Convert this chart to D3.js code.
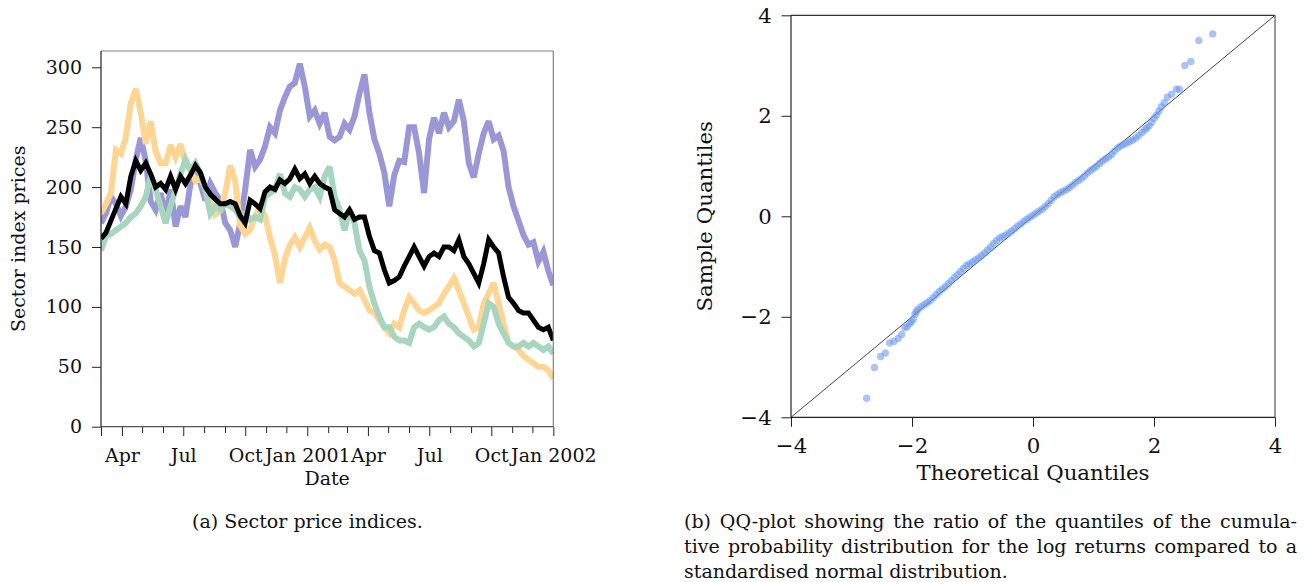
<!DOCTYPE html>
<html>
<head>
<meta charset="utf-8">
<script src="https://cdn.jsdelivr.net/npm/d3@7"></script>
<style>
  body { margin: 0; background: #fff; }
  svg text { font-family: "DejaVu Serif", serif; fill: #111; }
</style>
</head>
<body>
<div id="figure"></div>
<script>
// ---- data: sector price indices, roughly one reading a week, Mar 2000 - Dec 2001
const startDate = new Date(2000, 2, 1);
const endDate = new Date(2002, 0, 1);

const purplePrices = [
  170, 178, 192, 186, 176, 184, 198, 223, 241, 222, 188, 181, 195, 176, 198, 167,
  184, 175, 203, 211, 203, 189, 203, 195, 189, 170, 164, 150, 170, 198, 231, 217,
  223, 234, 250, 245, 264, 275, 284, 287, 303, 284, 259, 264, 253, 262, 242,
  239, 242, 253, 248, 259, 278, 294, 262, 240, 228, 212, 184, 210, 222, 221,
  250, 250, 228, 195, 240, 258, 245, 262, 250, 255, 273, 255, 220, 208, 228,
  245, 255, 240, 243, 230, 200, 184, 172, 160, 152, 154, 138, 146, 130, 118
];
const orangePrices = [
  178, 186, 195, 231, 228, 242, 270, 282, 262, 236, 255, 230, 220, 220, 235, 225,
  236, 220, 214, 205, 208, 199, 190, 177, 180, 195, 218, 205, 168, 161, 164, 176,
  183, 176, 158, 143, 120, 140, 152, 158, 150, 158, 166, 155, 148, 152, 150,
  139, 120, 117, 114, 111, 114, 106, 97, 95, 89, 83, 78, 86, 83, 97,
  108, 103, 97, 95, 97, 100, 103, 111, 117, 124, 114, 103, 92, 81, 83,
  103, 111, 120, 103, 86, 70, 67, 64, 59, 56, 53, 50, 50, 47, 40
];
const greenPrices = [
  147, 159, 161, 164, 167, 170, 175, 178, 184, 192, 209, 198, 184, 170, 184, 198,
  211, 223, 214, 220, 211, 198, 178, 184, 181, 186, 184, 181, 175, 178, 173, 175,
  173, 192, 195, 198, 211, 195, 192, 200, 198, 192, 198, 200, 192, 209, 217,
  192, 181, 164, 181, 170, 147, 139, 117, 103, 92, 83, 83, 75, 72, 72,
  70, 83, 86, 83, 81, 83, 89, 92, 86, 83, 78, 75, 72, 67, 70,
  86, 103, 100, 86, 78, 70, 67, 67, 70, 67, 70, 67, 64, 67, 61
];
const blackPrices = [
  157, 162, 172, 182, 192, 186, 209, 222, 214, 220, 211, 200, 203, 198, 209, 198,
  209, 203, 210, 218, 212, 200, 194, 190, 186, 186, 188, 186, 176, 170, 189, 186,
  182, 196, 200, 198, 206, 203, 207, 215, 207, 211, 203, 209, 203, 200, 198,
  181, 178, 175, 181, 173, 175, 175, 159, 147, 145, 131, 120, 122, 125, 134,
  142, 150, 142, 134, 142, 145, 142, 150, 150, 147, 156, 142, 136, 128, 120,
  136, 156, 150, 145, 125, 108, 103, 97, 95, 95, 89, 83, 81, 83, 72
];
const yTickValues = [0, 50, 100, 150, 200, 250, 300];

// ---- data: QQ plot of the standardised log returns
const qqTheoretical = [
  -2.75, -2.62, -2.52, -2.44, -2.37, -2.30, -2.23, -2.17, -2.12, -2.08, -2.04, -2.01, -1.98, -1.95, -1.93,
  -1.90, -1.85, -1.80, -1.75, -1.70, -1.65, -1.60, -1.55, -1.50, -1.45, -1.40, -1.35, -1.30, -1.25, -1.20,
  -1.15, -1.10, -1.05, -1.00, -0.95, -0.90, -0.85, -0.80, -0.75, -0.70, -0.65, -0.60, -0.55, -0.50, -0.45,
  -0.40, -0.35, -0.30, -0.25, -0.20, -0.15, -0.10, -0.05, 0.00, 0.05, 0.10, 0.15, 0.20, 0.25, 0.30,
  0.35, 0.40, 0.45, 0.50, 0.55, 0.60, 0.65, 0.70, 0.75, 0.80, 0.85, 0.90, 0.95, 1.00, 1.05,
  1.10, 1.15, 1.20, 1.25, 1.30, 1.35, 1.40, 1.45, 1.50, 1.55, 1.60, 1.65, 1.70, 1.75, 1.80,
  1.85, 1.88, 1.92, 1.96, 2.00, 2.04, 2.08, 2.12, 2.17, 2.22, 2.29, 2.37, 2.42, 2.51, 2.61,
  2.74, 2.97
];
const qqSample = [
  -3.62, -3.01, -2.79, -2.72, -2.52, -2.49, -2.43, -2.35, -2.22, -2.20, -2.14, -2.10, -2.05, -1.95, -1.90,
  -1.85, -1.80, -1.76, -1.72, -1.68, -1.62, -1.56, -1.50, -1.45, -1.40, -1.34, -1.28, -1.22, -1.16, -1.10,
  -1.04, -0.98, -0.95, -0.91, -0.87, -0.83, -0.78, -0.73, -0.67, -0.61, -0.54, -0.48, -0.43, -0.40, -0.37,
  -0.33, -0.29, -0.24, -0.19, -0.15, -0.10, -0.06, -0.02, 0.02, 0.06, 0.10, 0.14, 0.19, 0.25, 0.32,
  0.39, 0.43, 0.47, 0.50, 0.53, 0.57, 0.62, 0.67, 0.71, 0.75, 0.80, 0.86, 0.91, 0.95, 0.99,
  1.05, 1.10, 1.14, 1.18, 1.23, 1.30, 1.36, 1.40, 1.43, 1.46, 1.49, 1.52, 1.56, 1.61, 1.67,
  1.72, 1.76, 1.80, 1.87, 1.95, 2.01, 2.09, 2.18, 2.26, 2.37, 2.43, 2.53, 2.53, 3.00, 3.08,
  3.50, 3.63
];
const qqTicks = [-4, -2, 0, 2, 4];

const captionA = "(a) Sector price indices.";
const captionB = [
  "(b) QQ-plot showing the ratio of the quantiles of the cumula-",
  "tive probability distribution for the log returns compared to a",
  "standardised normal distribution."
];

// ---- canvas
var canvas_width = 1306,
  canvas_height = 582;

var svg = d3.select("#figure")
  .append("svg")
  .attr("width", canvas_width)
  .attr("height", canvas_height)
  .attr("viewBox", [0, 0, canvas_width, canvas_height]);

svg.append("rect")
  .attr("width", canvas_width)
  .attr("height", canvas_height)
  .attr("fill", "#fff");

function styleAxis(g, size) {
  g.attr("font-family", null).attr("font-size", null);
  g.selectAll("text").attr("font-size", size);
  g.select(".domain").remove();
  g.selectAll(".tick line").attr("stroke", "#222").attr("stroke-width", 1);
}

function drawSectorPanel(svg) {
  const left = 101, right = 553.3, top = 51, bottom = 426.7;
  const n = blackPrices.length;
  const dates = d3.range(n).map(i => new Date(+startDate + i * (endDate - startDate) / (n - 1)));

  const x = d3.scaleTime().domain([startDate, endDate]).range([left, right]);
  const y = d3.scaleLinear().domain([0, 313.6]).range([bottom, top]);

  svg.append("clipPath").attr("id", "sectorClip")
    .append("rect")
    .attr("x", left).attr("y", top)
    .attr("width", right - left).attr("height", bottom - top);

  const series = [
    { values: purplePrices, color: "#9a97d6", width: 6 },
    { values: orangePrices, color: "#fed592", width: 6 },
    { values: greenPrices, color: "#a8d5bd", width: 6 },
    { values: blackPrices, color: "#000000", width: 5 }
  ];

  const line = d3.line()
    .x((d, i) => x(dates[i]))
    .y(d => y(d));

  svg.append("g")
    .attr("clip-path", "url(#sectorClip)")
    .selectAll("path")
    .data(series)
    .join("path")
    .attr("d", d => line(d.values))
    .attr("fill", "none")
    .attr("stroke", d => d.color)
    .attr("stroke-width", d => d.width)
    .attr("stroke-linejoin", "miter")
    .attr("stroke-miterlimit", 3);

  // y axis
  const yAxis = svg.append("g")
    .attr("transform", `translate(${left},0)`)
    .call(d3.axisLeft(y).tickValues(yTickValues).tickSize(9).tickPadding(10));
  styleAxis(yAxis, 19);

  // x axis: quarterly labels, monthly minor ticks
  const fmt = d => d.getMonth() === 0 ? d3.timeFormat("Jan %Y")(d) : d3.timeFormat("%b")(d);
  const majors = d3.timeMonth.every(3).range(new Date(2000, 3, 1), d3.timeDay.offset(endDate, 1));
  const minors = d3.timeMonth.range(startDate, d3.timeDay.offset(endDate, 1))
    .filter(d => d.getMonth() % 3 !== 0);

  const xMinor = svg.append("g")
    .attr("transform", `translate(0,${bottom})`)
    .call(d3.axisBottom(x).tickValues(minors.slice(1)).tickSize(6.3).tickFormat(""));
  styleAxis(xMinor, 19);

  const xAxis = svg.append("g")
    .attr("transform", `translate(0,${bottom})`)
    .call(d3.axisBottom(x).tickValues([startDate].concat(majors)).tickSize(9.3)
      .tickFormat(d => +d === +startDate ? "" : fmt(d)));
  styleAxis(xAxis, 19);
  xAxis.selectAll("text").attr("y", 35.3).attr("dy", null);

  // frame
  svg.append("line").attr("x1", left).attr("x2", right).attr("y1", top).attr("y2", top)
    .attr("stroke", "#808080").attr("stroke-width", 1.2);
  svg.append("line").attr("x1", right).attr("x2", right).attr("y1", top).attr("y2", bottom)
    .attr("stroke", "#808080").attr("stroke-width", 1.2);
  svg.append("line").attr("x1", left).attr("x2", right).attr("y1", bottom).attr("y2", bottom)
    .attr("stroke", "#555").attr("stroke-width", 1.2);
  svg.append("line").attr("x1", left).attr("x2", left).attr("y1", top).attr("y2", bottom)
    .attr("stroke", "#222").attr("stroke-width", 1.2);

  svg.append("text")
    .attr("x", (left + right) / 2)
    .attr("y", 485)
    .attr("text-anchor", "middle")
    .attr("font-size", 19)
    .text("Date");

  svg.append("text")
    .attr("transform", `translate(25,${(top + bottom) / 2}) rotate(-90)`)
    .attr("text-anchor", "middle")
    .attr("font-size", 19)
    .text("Sector index prices");
}

function drawQQPanel(svg) {
  const left = 791, right = 1275, top = 15.3, bottom = 417.3;
  const x = d3.scaleLinear().domain([-4, 4]).range([left, right]);
  const y = d3.scaleLinear().domain([-4, 4]).range([bottom, top]);

  // reference line y = x
  svg.append("line")
    .attr("x1", x(-4)).attr("y1", y(-4))
    .attr("x2", x(4)).attr("y2", y(4))
    .attr("stroke", "#444")
    .attr("stroke-width", 1);

  svg.append("g").selectAll("circle")
    .data(qqTheoretical)
    .join("circle")
    .attr("cx", d => x(d))
    .attr("cy", (d, i) => y(qqSample[i]))
    .attr("r", 3.7)
    .attr("fill", "#6495ed")
    .attr("fill-opacity", 0.55);

  const xAxis = svg.append("g")
    .attr("transform", `translate(0,${bottom})`)
    .call(d3.axisBottom(x).tickValues(qqTicks).tickSize(9.5));
  styleAxis(xAxis, 21.3);
  xAxis.selectAll("text").attr("y", 35.4).attr("dy", null);

  const yAxis = svg.append("g")
    .attr("transform", `translate(${left},0)`)
    .call(d3.axisLeft(y).tickValues(qqTicks).tickSize(9.5).tickPadding(9.8));
  styleAxis(yAxis, 21.3);

  svg.append("line").attr("x1", left).attr("x2", right).attr("y1", top).attr("y2", top)
    .attr("stroke", "#333").attr("stroke-width", 1.2);
  svg.append("line").attr("x1", right).attr("x2", right).attr("y1", top).attr("y2", bottom)
    .attr("stroke", "#555").attr("stroke-width", 1.2);
  svg.append("line").attr("x1", left).attr("x2", right).attr("y1", bottom).attr("y2", bottom)
    .attr("stroke", "#222").attr("stroke-width", 1.2);
  svg.append("line").attr("x1", left).attr("x2", left).attr("y1", top).attr("y2", bottom)
    .attr("stroke", "#222").attr("stroke-width", 1.2);

  svg.append("text")
    .attr("x", x(0))
    .attr("y", 480)
    .attr("text-anchor", "middle")
    .attr("font-size", 21.3)
    .text("Theoretical Quantiles");

  svg.append("text")
    .attr("transform", `translate(711.7,${(top + bottom) / 2}) rotate(-90)`)
    .attr("text-anchor", "middle")
    .attr("font-size", 21.3)
    .text("Sample Quantiles");
}

function drawCaptions(svg) {
  svg.append("text")
    .attr("x", 307.5)
    .attr("y", 528)
    .attr("text-anchor", "middle")
    .attr("font-size", 19)
    .text(captionA);

  const capLeft = 684, capWidth = 613;
  svg.append("g").selectAll("text")
    .data(captionB)
    .join("text")
    .attr("x", capLeft)
    .attr("y", (d, i) => 528 + i * 25)
    .attr("font-size", 19)
    .text(d => d)
    .each(function (d, i) {
      // justify all but the last line
      if (i === captionB.length - 1) return;
      const natural = this.getComputedTextLength();
      const spaces = d.split(" ").length - 1;
      d3.select(this).attr("word-spacing", (capWidth - natural) / spaces);
    });
}

drawSectorPanel(svg);
drawQQPanel(svg);
drawCaptions(svg);
</script>
</body>
</html>
